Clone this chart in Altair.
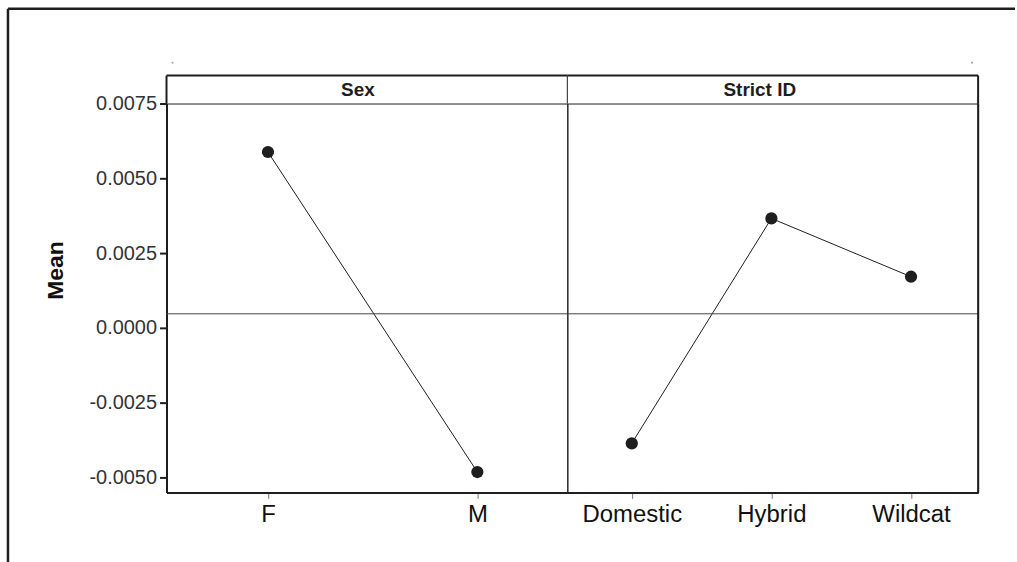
import altair as alt
import pandas as pd

# Main effects of Sex and Strict ID on the fitted mean
sex_levels = ["F", "M"]
sex_means = [0.00588, -0.00482]

id_levels = ["Domestic", "Hybrid", "Wildcat"]
id_means = [-0.00386, 0.00366, 0.00171]

grand_mean = 0.00047
y_ticks = [-0.005, -0.0025, 0.0, 0.0025, 0.005, 0.0075]
y_domain = [-0.0055, 0.0075]

FONT = "Liberation Sans"
INK = "#1e1e1e"
PLOT_H = 390
HEAD_H = 28

one = pd.DataFrame({"k": [0]})


def rule(x, x2, y, y2, width=1.0, color=INK):
    return alt.Chart(one).mark_rule(color=color, strokeWidth=width).encode(
        x=alt.value(x), x2=alt.value(x2), y=alt.value(y), y2=alt.value(y2)
    )


def speck(x, y):
    return alt.Chart(one).mark_square(size=3, color="#999", opacity=1).encode(
        x=alt.value(x), y=alt.value(y)
    )


def panel(levels, means, header, width, pad, align, header_x, first):
    df = pd.DataFrame({"level": levels, "mean": means})

    if first:
        y_axis = alt.Axis(
            values=y_ticks,
            labelExpr="replace(format(datum.value, '.4f'), '\u2212', '-')",
            labelFont=FONT, labelFontSize=20, labelColor="#333", labelPadding=3,
            tickSize=7, tickWidth=2, tickColor=INK,
            domainWidth=2, domainColor=INK, grid=False,
            title="Mean", titleFont=FONT, titleFontSize=23, titleFontWeight="bold",
            titleColor="#111", titleAngle=-90, titleX=-111, titleY=167,
            titleAlign="center", titleBaseline="middle",
        )
    else:
        y_axis = None

    x_enc = alt.X(
        "level:N", sort=levels,
        scale=alt.Scale(type="point", padding=pad, align=align),
        axis=alt.Axis(
            title=None, labelAngle=0, labelFont=FONT, labelFontSize=24,
            labelColor="#111", labelPadding=4, tickSize=6, tickWidth=1,
            tickColor="#777", domainWidth=2, domainColor=INK,
        ),
    )
    y_enc = alt.Y("mean:Q", scale=alt.Scale(domain=y_domain, nice=False, zero=False), axis=y_axis)

    base = alt.Chart(df).encode(x=x_enc, y=y_enc)
    line = base.mark_line(color=INK, strokeWidth=1)
    pts = base.mark_circle(size=150, color=INK, opacity=1)
    ref = alt.Chart(one).mark_rule(color="#444", strokeWidth=1).encode(y=alt.datum(grand_mean))

    head_text = alt.Chart(one).mark_text(
        font=FONT, fontSize=19, fontWeight="bold", color=INK, baseline="middle"
    ).encode(x=alt.value(header_x), y=alt.value(-HEAD_H / 2), text=alt.value(header))

    layers = [line, pts, ref, head_text, rule(0, width, -HEAD_H, -HEAD_H, 2)]
    if first:
        layers += [
            rule(0, 0, -HEAD_H, 0, 2),
            rule(width, width, -HEAD_H, 0, 1),
            # outer figure frame
            rule(-159, 851, -95, -95, 2.5),
            rule(-159, -159, -95, 462, 2.5),
            speck(6, -41),
            speck(808, -41),
        ]
    else:
        layers += [rule(width, width, -HEAD_H, PLOT_H, 2)]

    return alt.layer(*layers).properties(width=width, height=PLOT_H)


left = panel(sex_levels, sex_means, "Sex", 402, 0.457, 0.53, 192, True)
right = panel(id_levels, id_means, "Strict ID", 412, 0.471, 0.49, 193, False)

chart = (
    alt.hconcat(left, right, spacing=0, bounds="flush")
    .properties(padding={"left": 6, "top": 6, "right": 0, "bottom": 0}, background="white")
    .configure_view(stroke=INK, strokeWidth=1)
)

chart.save("out.html", embed_options={"renderer": "svg", "actions": False})
